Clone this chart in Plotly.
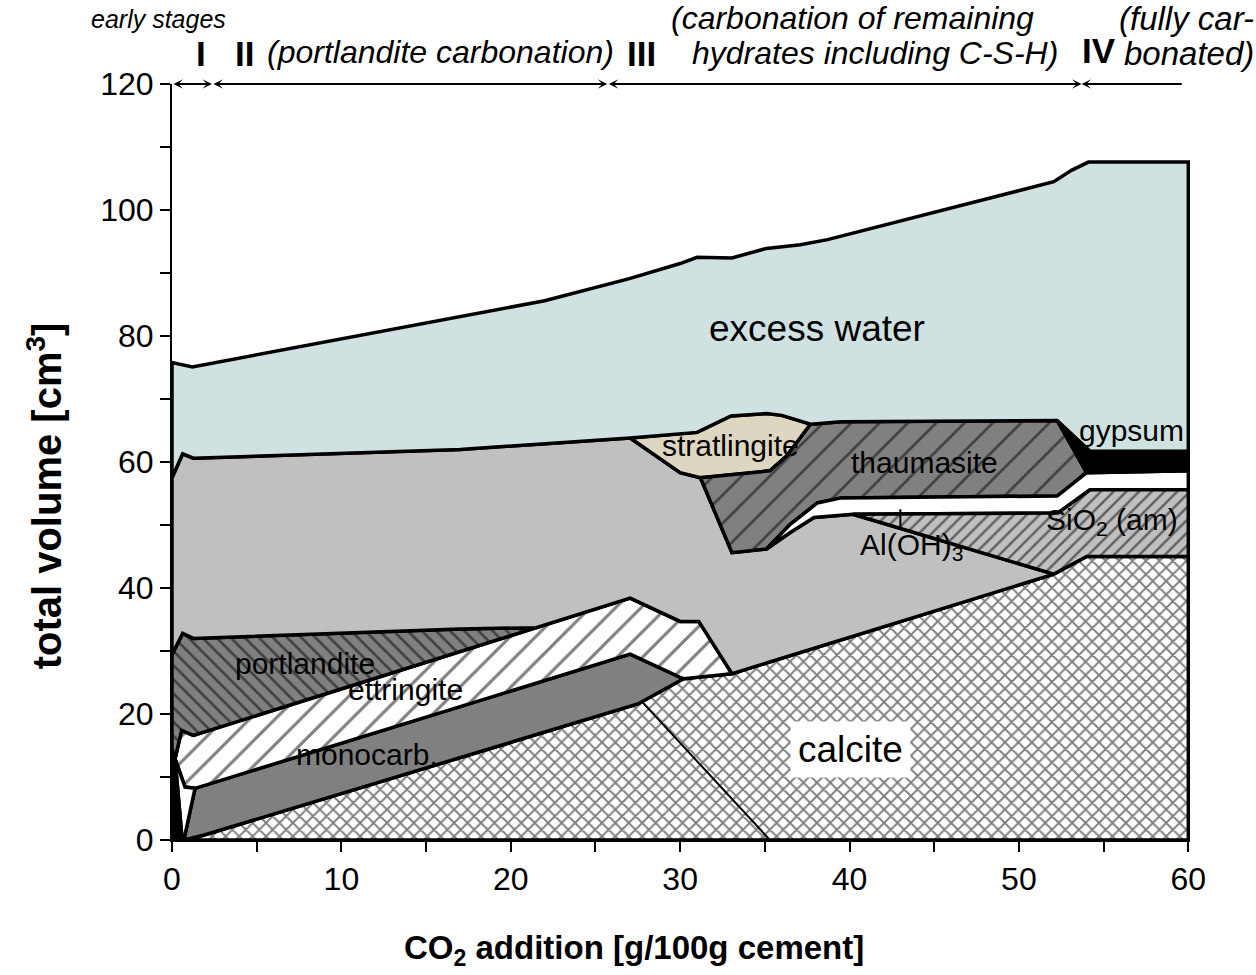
import plotly.graph_objects as go

# ---------------- data (x: g CO2 / 100 g cement, y: cumulative volume cm3) ----------------
# total volume (upper edge of excess water)
total_x = [0, 1.2, 22.0, 27.0, 30.0, 31.0, 33.06, 35.1, 37.1, 38.7, 52.06, 53.1, 54.1, 60.0]
total_y = [75.8, 75.1, 85.6, 89.1, 91.5, 92.5, 92.4, 93.9, 94.5, 95.3, 104.5, 106.3, 107.6, 107.6]

# calcite upper edge
calcite_x = [0.7, 1.85, 27.5, 30.2, 33.06, 52.06, 54.0, 60.0]
calcite_y = [0.0, 0.75, 21.6, 25.6, 26.4, 42.2, 45.0, 45.0]

# monocarbonate upper edge
monocarb_x = [0.7, 1.36, 27.05, 30.0, 30.2]
monocarb_y = [0.0, 8.2, 29.5, 25.8, 25.6]

# ettringite upper edge
ettringite_x = [0.18, 0.57, 1.26, 21.5, 27.05, 30.0, 31.1, 33.06]
ettringite_y = [12.9, 17.4, 16.6, 33.7, 38.4, 34.7, 34.7, 26.4]
ettringite_low_x = [0.18, 0.77]
ettringite_low_y = [12.9, 8.4]

# portlandite upper edge
portlandite_x = [0, 0.63, 1.26, 17.0, 21.5]
portlandite_y = [29.4, 32.8, 32.0, 33.5, 33.7]

# early-stage phases near x = 0
black_x = [0, 0.6, 0.18, 0]
black_y = [0, 0, 12.9, 14.3]

# C-S-H upper edge (left part)
csh_x = [0, 0.63, 1.26, 17.0, 27.05]
csh_y = [57.5, 61.3, 60.6, 62.0, 63.8]
# C-S-H upper edge below the white band
csh_right_x = [35.1, 36.5, 37.9, 40.2]
csh_right_y = [46.2, 48.8, 51.2, 51.7]

# stratlingite
strat_top_x = [27.05, 31.0, 33.0, 35.1, 36.0, 37.3, 37.7]
strat_top_y = [63.8, 64.7, 67.3, 67.7, 67.4, 66.3, 66.0]
strat_bot_x = [27.05, 30.0, 31.2, 35.3, 36.3, 37.7]
strat_bot_y = [63.8, 58.3, 57.5, 58.6, 61.0, 66.0]

# thaumasite
thaum_top_x = [37.7, 39.5, 48.3, 52.26]
thaum_top_y = [66.0, 66.4, 66.6, 66.6]
thaum_bot_x = [33.06, 35.1, 36.5, 38.1, 39.5, 52.26, 54.0]
thaum_bot_y = [45.6, 46.2, 50.1, 53.5, 54.3, 54.6, 58.3]

# Al(OH)3 + SiO2(am)
sio2_top_x = [40.2, 52.3, 54.2, 60.0]
sio2_top_y = [51.7, 51.9, 55.6, 55.6]

# gypsum
gypsum_x = [52.26, 54.2, 60.0, 60.0, 54.0]
gypsum_y = [66.6, 61.7, 61.7, 58.6, 58.3]

# thin calcite internal line, Al(OH)3 pointer
calc_line_x = [27.8, 35.3]
calc_line_y = [21.8, 0.0]
aloh_tick_x = [43.0, 43.0]
aloh_tick_y = [49.6, 52.5]

# stage boundaries on the top arrow line
stage_bounds = [0, 2.36, 25.7, 53.7, 59.7]

FONT = "Liberation Sans, Arial, sans-serif"
XMAX = 60.1
YMAX = 120.0


def pts(xs, ys):
    return list(zip(xs, ys))


def poly(points):
    return [p[0] for p in points] + [points[0][0]], [p[1] for p in points] + [points[0][1]]


def rev(p):
    return list(reversed(p))


cal = pts(calcite_x, calcite_y)
mc = pts(monocarb_x, monocarb_y)
et = pts(ettringite_x, ettringite_y)
pt = pts(portlandite_x, portlandite_y)

polys = []

# calcite
calcite_poly = cal + [(60.0, 0.0)]
polys.append(("calcite", calcite_poly, dict(fillcolor="white",
              fillpattern=dict(shape="x", bgcolor="white", fgcolor="black", size=9.5, solidity=0.36))))

# monocarb
mono_poly = mc + rev([p for p in cal if p[0] < 30.2])
polys.append(("monocarb", mono_poly, dict(fillcolor="#808080")))

# ettringite
ett_low = pts(ettringite_low_x, ettringite_low_y) + mc[1:] + [cal[4]]
ett_poly = ett_low + rev(et[:-1])
polys.append(("ettringite", ett_poly, dict(fillcolor="white",
              fillpattern=dict(shape="/", bgcolor="white", fgcolor="black", size=18, solidity=0.17))))

# white wedge near origin
wedge_poly = [(0.18, 12.9), (0.77, 8.4), (1.36, 8.2), (0.7, 0.0), (0.6, 0.0)]
polys.append(("wedge", wedge_poly, dict(fillcolor="white")))

# black wedge near origin
polys.append(("black", pts(black_x, black_y), dict(fillcolor="black")))

# portlandite
port_poly = pt + rev([p for p in et if p[0] <= 21.5 and p[0] >= 0.18]) + [(0, 14.3)]
polys.append(("portlandite", port_poly, dict(fillcolor="#808080",
              fillpattern=dict(shape="\\", bgcolor="#808080", fgcolor="black", size=10, solidity=0.26))))

# C-S-H
csh_low = pt + [p for p in et if p[0] > 21.5] + [p for p in cal if 33.06 < p[0] <= 52.06]
csh_up = (pts(csh_x, csh_y)
          + [p for p in pts(strat_bot_x, strat_bot_y) if 27.05 < p[0] <= 31.2]
          + [(33.06, 45.6)]
          + pts(csh_right_x, csh_right_y))
csh_poly = csh_low + rev(csh_up)
polys.append(("csh", csh_poly, dict(fillcolor="#C0C0C0")))

# stratlingite
strat_poly = pts(strat_top_x, strat_top_y) + rev(pts(strat_bot_x, strat_bot_y))[1:-1]
polys.append(("stratlingite", strat_poly, dict(fillcolor="#DDD6C1")))

# thaumasite
thaum_poly = ([p for p in pts(strat_bot_x, strat_bot_y) if p[0] >= 31.2]
              + pts(thaum_top_x, thaum_top_y)[1:]
              + rev(pts(thaum_bot_x, thaum_bot_y)))
polys.append(("thaumasite", thaum_poly, dict(fillcolor="#808080",
              fillpattern=dict(shape="/", bgcolor="#808080", fgcolor="black", size=20, solidity=0.13))))

# white band
band_low = pts(csh_right_x, csh_right_y) + pts(sio2_top_x, sio2_top_y)[1:]
band_up = [p for p in pts(thaum_bot_x, thaum_bot_y) if p[0] >= 35.1] + [(60.0, 58.6)]
band_poly = band_low + rev(band_up)
polys.append(("band", band_poly, dict(fillcolor="white")))

# Al(OH)3 + SiO2
sio2_poly = pts(sio2_top_x, sio2_top_y) + [(60.0, 45.0), (54.0, 45.0), (52.06, 42.2)]
polys.append(("sio2", sio2_poly, dict(fillcolor="#C0C0C0",
              fillpattern=dict(shape="/", bgcolor="#C0C0C0", fgcolor="black", size=9, solidity=0.27))))

# gypsum
polys.append(("gypsum", pts(gypsum_x, gypsum_y), dict(fillcolor="black")))

# excess water
water_low = (pts(csh_x, csh_y) + pts(strat_top_x, strat_top_y)[1:]
             + pts(thaum_top_x, thaum_top_y)[1:] + [(54.2, 61.7), (60.0, 61.7)])
water_poly = water_low + rev(pts(total_x, total_y))
polys.append(("water", water_poly, dict(fillcolor="#D0E1E1")))

fig = go.Figure()
for name, p, style in polys:
    xs, ys = poly(p)
    fig.add_trace(go.Scatter(x=xs, y=ys, mode="lines", fill="toself", name=name,
                             line=dict(color="black", width=3.5), hoverinfo="skip",
                             showlegend=False, **style))

fig.add_trace(go.Scatter(x=calc_line_x, y=calc_line_y, mode="lines",
                         line=dict(color="black", width=2), hoverinfo="skip", showlegend=False))
fig.add_trace(go.Scatter(x=aloh_tick_x, y=aloh_tick_y, mode="lines",
                         line=dict(color="black", width=2), hoverinfo="skip", showlegend=False))

ann = []


def label(text, x, y, size=30, **kw):
    # positions given in data units, converted to paper so that labels outside the axes stay visible
    d = dict(text=text, x=x / XMAX, y=y / YMAX, xref="paper", yref="paper", showarrow=False,
             xanchor="center", yanchor="middle",
             font=dict(family=FONT, size=size, color="black"))
    d.update(kw)
    ann.append(d)


label("excess water", 38.1, 81.2, size=37)
label("stratlingite", 33.0, 62.6)
label("thaumasite", 44.4, 59.9)
label("gypsum", 56.65, 65.0)
label("SiO<sub>2</sub> (am)", 55.5, 50.5)
label("Al(OH)<sub>3</sub>", 43.65, 46.6)
label("portlandite", 7.85, 28.0)
label("ettringite", 13.8, 23.9)
label("monocarb.", 11.5, 13.6)
label("calcite", 40.05, 14.4, size=37, bgcolor="white", borderpad=7)

# stage header
label("<i>early stages</i>", -0.8, 130.3, size=25)
label("<b>I</b>", 1.7, 124.9, size=35)
label("<b>II</b>", 4.3, 124.9, size=35)
label("<i>(portlandite carbonation)</i>", 15.85, 125.0, size=32)
label("<b>III</b>", 27.7, 124.9, size=35)
label("<i>(carbonation of remaining</i>", 40.2, 130.4, size=32)
label("<i>hydrates including C-S-H)</i>", 41.5, 124.9, size=32)
label("<b>IV</b>", 54.75, 125.3, size=35)
label("<i>(fully car-</i>", 64.0, 130.4, size=33, xanchor="right")
label("<i>bonated)</i>", 64.0, 124.9, size=33, xanchor="right")

# axis titles
label("<b>total volume [cm<sup>3</sup>]</b>", -7.5, 54.7, size=40, textangle=-90)
label("<b>CO<sub>2</sub> addition [g/100g cement]</b>", 27.3, -17.5, size=33)

# stage arrows
for i in range(len(stage_bounds) - 1):
    a, b = stage_bounds[i], stage_bounds[i + 1]
    last = i == len(stage_bounds) - 2
    ann.append(dict(x=a if last else b, y=120, ax=b if last else a, ay=120,
                    xref="x", yref="y", axref="x", ayref="y", text="",
                    showarrow=True, arrowhead=3, arrowsize=0.8, arrowwidth=2,
                    arrowcolor="black", arrowside="end" if last else "end+start",
                    standoff=0, startstandoff=0))

axis_common = dict(showline=True, linecolor="black", linewidth=2, ticks="outside",
                   ticklen=10, tickwidth=2, tickcolor="black", showgrid=False, zeroline=False,
                   tickfont=dict(family=FONT, size=32, color="black"))

fig.update_layout(
    width=1256, height=975,
    margin=dict(l=172, r=66, t=84, b=135),
    paper_bgcolor="white", plot_bgcolor="white",
    annotations=ann,
    xaxis=dict(range=[0, XMAX], tick0=0, dtick=10,
               minor=dict(dtick=5, ticks="outside", ticklen=10, tickwidth=2, tickcolor="black"),
               **axis_common),
    yaxis=dict(range=[0, YMAX], tick0=0, dtick=20,
               minor=dict(dtick=10, ticks="outside", ticklen=10, tickwidth=2, tickcolor="black"),
               **axis_common),
)

fig.write_html("out.html")
